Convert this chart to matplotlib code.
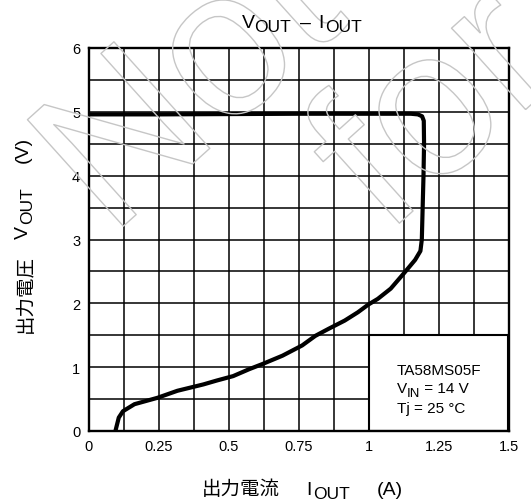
import matplotlib
matplotlib.use("Agg")
import matplotlib.pyplot as plt
import matplotlib.patheffects as pe
from matplotlib.patches import Rectangle
from matplotlib.ticker import MultipleLocator

plt.rcParams['font.family'] = ['Liberation Sans', 'Noto Sans CJK JP', 'DejaVu Sans']

# ---- data ----
iout = [0.0, 0.25, 0.5, 0.75, 1.0, 1.15, 1.175, 1.19, 1.196, 1.197, 1.195,
        1.192, 1.189, 1.184, 1.165, 1.125, 1.078, 1.032, 0.998, 0.961, 0.914,
        0.856, 0.809, 0.762, 0.692, 0.621, 0.574, 0.516, 0.457, 0.410, 0.317,
        0.246, 0.164, 0.123, 0.108, 0.096]
vout = [4.96, 4.96, 4.965, 4.97, 4.97, 4.97, 4.96, 4.93, 4.86, 4.5, 4.0,
        3.5, 3.0, 2.82, 2.68, 2.47, 2.23, 2.07, 1.98, 1.86, 1.73,
        1.60, 1.49, 1.34, 1.18, 1.05, 0.97, 0.86, 0.79, 0.73, 0.63,
        0.52, 0.42, 0.31, 0.21, 0.0]
xticks = [0, 0.25, 0.5, 0.75, 1, 1.25, 1.5]
xticklabels = ['0', '0.25', '0.5', '0.75', '1', '1.25', '1.5']
yticks = [0, 1, 2, 3, 4, 5, 6]
device = 'TA58MS05F'
vin_text = ' = 14 V'
tj_text = 'Tj = 25 °C'

W, H = 531, 502
fig = plt.figure(figsize=(W/100, H/100), dpi=100)
ax = fig.add_axes([88.5/W, 70/H, 420.5/W, 383/H])

ax.set_xlim(0, 1.5)
ax.set_ylim(0, 6)
ax.set_xticks(xticks)
ax.set_xticklabels(xticklabels)
ax.set_yticks(yticks)
ax.xaxis.set_minor_locator(MultipleLocator(0.125))
ax.yaxis.set_minor_locator(MultipleLocator(0.5))
ax.grid(True, which='both', color='black', linewidth=1.1)
ax.tick_params(which='both', length=0, labelsize=10.5)
ax.tick_params(axis='x', pad=6)
ax.tick_params(axis='y', pad=6)
for s in ax.spines.values():
    s.set_linewidth(1.7)
    s.set_zorder(5)

# condition box
ax.add_patch(Rectangle((1.0, 0), 0.495, 1.5, facecolor='white',
                       edgecolor='black', linewidth=1.5, zorder=2))
bt = dict(va='baseline', ha='left', zorder=3)
ax.text(1.10, 0.893, device, fontsize=11, **bt)
ax.text(1.10, 0.607, 'V', fontsize=11, **bt)
ax.text(1.136, 0.552, 'IN', fontsize=9.5, **bt)
ax.text(1.184, 0.607, vin_text, fontsize=11, **bt)
ax.text(1.10, 0.293, tj_text, fontsize=11, **bt)

ax.plot(iout, vout, color='black', linewidth=3.0, solid_joinstyle='round',
        zorder=4, clip_on=True)

def ftx(xp, yp, s, size, **kw):
    """text placed at pixel position (from top-left), anchored at baseline start"""
    kw.setdefault('va', 'baseline')
    kw.setdefault('ha', 'left')
    return fig.text(xp/W, 1 - yp/H, s, fontsize=size, **kw)

MAIN, SUB = 14, 12.5
cjk = ['Noto Sans CJK JP']

# title  V_OUT – I_OUT
ftx(241.5, 28.3, 'V', MAIN)
ftx(254.5, 31.7, 'OUT', SUB)
ftx(300.5, 28.3, '–', MAIN)
ftx(318, 28.3, 'I', MAIN)
ftx(325, 31.7, 'OUT', SUB)

# x label  出力電流  I_OUT  (A)
ftx(202, 495, '出力電流', MAIN, family=cjk)
ftx(306, 495, 'I', MAIN)
ftx(313.5, 499.5, 'OUT', SUB)
ftx(377, 495, '(A)', MAIN)

# y label (rotated)  出力電圧  V_OUT  (V)
rk = dict(rotation=90, rotation_mode='anchor')
ftx(30.5, 333, '出力電圧', MAIN, family=cjk, **rk)
ftx(28.3, 239, 'V', MAIN, **rk)
ftx(31.7, 223.5, 'OUT', SUB, **rk)
ftx(27.8, 163, '(V)', MAIN, **rk)

# faint outline watermark
wm = dict(fontsize=150, color='none', ha='center', va='center',
          rotation=42, rotation_mode='anchor', zorder=0,
          path_effects=[pe.Stroke(linewidth=1.0, foreground='#c6c6c6')])
fig.text(195/W, 1-90/H, 'Not', **wm)
fig.text(440/W, 1-115/H, 'for', **wm)

fig.savefig('out.png', dpi=100)
